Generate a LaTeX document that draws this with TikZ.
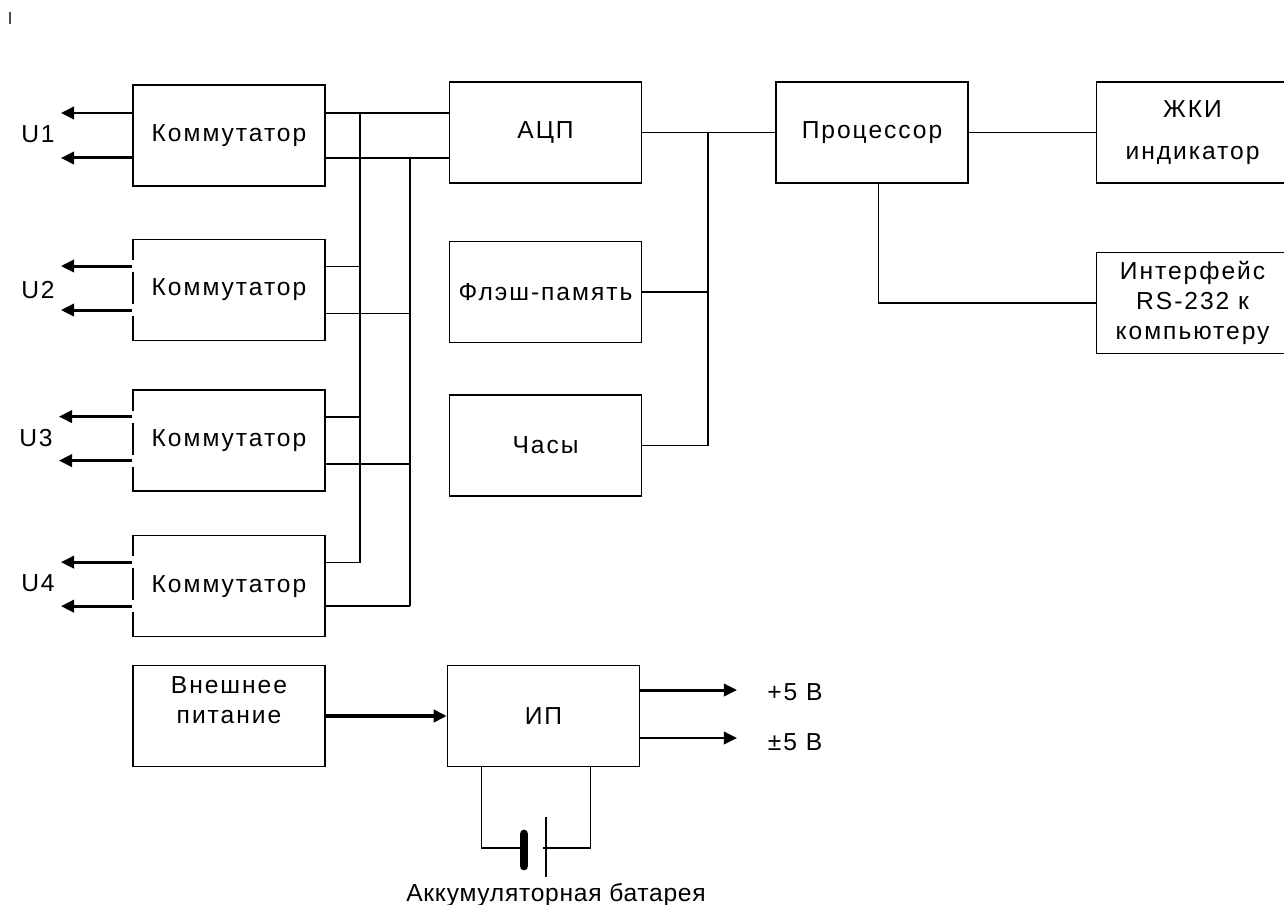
\documentclass[tikz,border=0pt]{standalone}
\usepackage{fontspec}
\setmainfont{Liberation Sans}[LetterSpace=8]
\usepackage{tikz}
\usetikzlibrary{arrows.meta,positioning,calc}

\begin{document}
\begin{tikzpicture}[
        x=0.02cm, y=-0.02cm,
        font=\fontsize{14}{17}\selectfont,
        node distance=0.98cm,
        block/.style={
            draw,
            line width=0.9pt,
            align=center,
            inner sep=0pt,
            minimum height=2.02cm,
            minimum width=3.84cm
        },
        link/.style={
            line width=0.9pt
        },
        arrow/.style={
            -{Triangle[length=7.5pt,width=7pt]},
            line width=1.7pt
        },
        gap/.style={
            white,
            line width=2.4pt
        }
    ]

        \useasboundingbox (0,0) rectangle (1284,905);
        \draw[black!70, line width=1.5pt] (10,12) -- (10,24);

        % commutators
        \node[block] (komA) at (229,135.5) {Коммутатор};
        \node[block, below=1.04cm of komA] (komB) {Коммутатор};
        \node[block, below=0.96cm of komB] (komC) {Коммутатор};
        \node[block, below=0.86cm of komC] (komD) {Коммутатор};

        \node (uA) at (38,134) {U1};
        \node (uB) at (38,290) {U2};
        \node (uC) at (36,438) {U3};
        \node (uD) at (38,583) {U4};

        % middle and right column
        \node[block, right=2.46cm of komA, yshift=0.06cm] (adc) {АЦП};
        \node[block, below=1.14cm of adc] (flash) {Флэш-память};
        \node[block, below=1.02cm of flash] (clock) {Часы};
        \node[block, right=2.66cm of adc] (cpu) {Процессор};
        \node[block, right=2.54cm of cpu] (lcd) {ЖКИ\\[7pt]индикатор};
        \node[block, below=1.36cm of lcd] (rs) {Интерфейс\\RS-232 к\\компьютеру};

        % power supply
        \node[block] (ext) at (229,716) {Внешнее\\питание\\[-4pt] \strut};
        \node[block, right=2.42cm of ext] (psu) {ИП};
        \node (p5) at (795,692) {+5 В};
        \node (pm5) at (795,742) {±5 В};
        \node[font=\fontsize{14}{17}\selectfont\addfontfeatures{LetterSpace=3}] (batlabel) at (556,895) {Аккумуляторная батарея};

        \coordinate (bus1) at (360,0);
        \coordinate (bus2) at (410,0);
        \coordinate (bus3) at (708,0);
        \coordinate (tip) at (737,0);
        \coordinate (batL) at (524,848);
        \coordinate (batR) at (543,848);

        % inputs U1..U4
        \draw[arrow] ([yshift=0.45cm]komA.west) -- ([yshift=0.45cm]komA.west -| uA.east);
        \draw[arrow] ([yshift=-0.45cm]komA.west) -- ([yshift=-0.45cm]komA.west -| uA.east);
        \draw[gap] ([yshift=0.6cm]komB.west) -- ([yshift=0.36cm]komB.west);
        \draw[gap] ([yshift=-0.28cm]komB.west) -- ([yshift=-0.52cm]komB.west);
        \draw[arrow] ([yshift=0.48cm]komB.west) -- ([yshift=0.48cm]komB.west -| uB.east);
        \draw[arrow] ([yshift=-0.4cm]komB.west) -- ([yshift=-0.4cm]komB.west -| uB.east);
        \draw[gap] ([yshift=0.6cm]komC.west) -- ([yshift=0.36cm]komC.west);
        \draw[gap] ([yshift=-0.28cm]komC.west) -- ([yshift=-0.52cm]komC.west);
        \draw[arrow] ([yshift=0.48cm]komC.west) -- ([yshift=0.48cm]komC.west -| uC.east);
        \draw[arrow] ([yshift=-0.4cm]komC.west) -- ([yshift=-0.4cm]komC.west -| uC.east);
        \draw[gap] ([yshift=0.6cm]komD.west) -- ([yshift=0.36cm]komD.west);
        \draw[gap] ([yshift=-0.28cm]komD.west) -- ([yshift=-0.52cm]komD.west);
        \draw[arrow] ([yshift=0.48cm]komD.west) -- ([yshift=0.48cm]komD.west -| uD.east);
        \draw[arrow] ([yshift=-0.4cm]komD.west) -- ([yshift=-0.4cm]komD.west -| uD.east);

        % bus to the ADC
        \draw[link] ([yshift=0.45cm]komA.east) -- ([yshift=0.45cm]komA.east -| adc.west);
        \draw[link] ([yshift=-0.45cm]komA.east) -- ([yshift=-0.45cm]komA.east -| adc.west);
        \draw[link] ([yshift=0.47cm]komB.east) -- ([yshift=0.47cm]komB.east -| bus1);
        \draw[link] ([yshift=-0.47cm]komB.east) -- ([yshift=-0.47cm]komB.east -| bus2);
        \draw[link] ([yshift=0.47cm]komC.east) -- ([yshift=0.47cm]komC.east -| bus1);
        \draw[link] ([yshift=-0.47cm]komC.east) -- ([yshift=-0.47cm]komC.east -| bus2);
        \draw[link] ([yshift=0.47cm]komD.east) -- ([yshift=0.47cm]komD.east -| bus1);
        \draw[link] ([yshift=-0.4cm]komD.east) -- ([yshift=-0.4cm]komD.east -| bus2);
        \draw[link] ([yshift=0.45cm]komA.east -| bus1) -- ([yshift=0.47cm]komD.east -| bus1);
        \draw[link] ([yshift=-0.45cm]komA.east -| bus2) -- ([yshift=-0.4cm]komD.east -| bus2);

        % data bus to the processor
        \draw[link] (adc) -- (cpu);
        \draw[link] (adc.east -| bus3) -- (clock.east -| bus3);
        \draw[link] (flash.east) -- (flash.east -| bus3);
        \draw[link] (clock.east) -- (clock.east -| bus3);
        \draw[link] (cpu) -- (lcd);
        \draw[link] ([xshift=0.13cm]cpu.south) |- (rs.west);

        % power
        \draw[arrow, line width=2.3pt] (ext) -- (psu);
        \draw[arrow] ([yshift=0.52cm]psu.east) -- ([yshift=0.52cm]psu.east -| tip);
        \draw[arrow] ([yshift=-0.44cm]psu.east) -- ([yshift=-0.44cm]psu.east -| tip);
        \draw[link] ([xshift=-1.24cm]psu.south) |- (batL);
        \draw[link] ([xshift=0.94cm]psu.south) |- (batR);
        \draw[line width=5pt, line cap=round] (524,834) -- (524,866);
        \draw[link] (546,817) -- (546,877);

    \end{tikzpicture}
\end{document}
